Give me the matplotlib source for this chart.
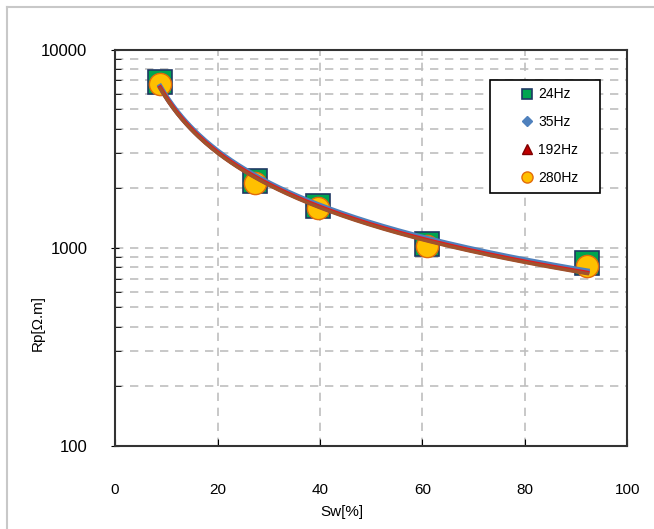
import numpy as np
import matplotlib.pyplot as plt
from matplotlib.lines import Line2D
from matplotlib.patches import Rectangle
from matplotlib.ticker import LogLocator, FixedLocator, NullFormatter

sw = [8.8, 27.3, 39.6, 61.0, 92.2]
rp_24 = [6880, 2180, 1630, 1050, 840]
rp_35 = [6800, 2150, 1610, 1040, 830]
rp_192 = [6780, 2140, 1600, 1030, 820]
rp_280 = [6700, 2120, 1590, 1020, 810]

labels = ["24Hz", "35Hz", "192Hz", "280Hz"]
series = [rp_24, rp_35, rp_192, rp_280]
line_colors = ["#4F81BD", "#4F81BD", "#E41A1C", "#A0522D"]
styles = [
    dict(marker="s", ms=17, mfc="#00A550", mec="#1F3864", mew=1.2),
    dict(marker="D", ms=7, mfc="#4F81BD", mec="#4F81BD", mew=1),
    dict(marker="^", ms=9, mfc="#C00000", mec="#800000", mew=1),
    dict(marker="o", ms=16, mfc="#FFC000", mec="#E26B0A", mew=1),
]

plt.rcParams["font.family"] = ["Liberation Sans", "DejaVu Sans"]

fig = plt.figure(figsize=(6.54, 5.29), dpi=100)
ax = fig.add_axes([0.176, 0.157, 0.783, 0.749])

# power trendlines (fit on logs)
xs = np.linspace(min(sw), max(sw), 200)
for vals, lc, lw in zip(series, line_colors, [3.5, 3.5, 3.0, 2.5]):
    b, lna = np.polyfit(np.log(sw), np.log(vals), 1)
    ax.plot(xs, np.exp(lna) * xs ** b, color=lc, lw=lw, zorder=4)

handles = []
for vals, lab, st in zip(series, labels, styles):
    ax.plot(sw, vals, ls="none", zorder=3, **st)
    hs = dict(st)
    hs["ms"] = {"s": 7, "D": 5, "^": 7, "o": 8}[st["marker"]]
    handles.append(Line2D([], [], ls="none", label=lab, **hs))

ax.set_yscale("log")
ax.set_xlim(0, 100)
ax.set_ylim(100, 10000)
ax.set_xticks([0, 20, 40, 60, 80, 100])
ax.yaxis.set_major_locator(FixedLocator([100, 1000, 10000]))
ax.yaxis.set_minor_locator(LogLocator(base=10, subs=np.arange(2, 10)))
ax.yaxis.set_minor_formatter(NullFormatter())
ax.set_yticklabels(["100", "1000", "10000"])

ax.grid(True, which="major", axis="both", color="#BFBFBF", ls=(0, (5, 4)), lw=1.2)
ax.grid(True, which="minor", axis="y", color="#BFBFBF", ls=(0, (5, 4)), lw=1.2)
ax.set_axisbelow(True)

ax.tick_params(axis="x", which="major", direction="in", length=5, pad=27, labelsize=11)
ax.tick_params(axis="y", which="major", direction="inout", length=6, pad=17, labelsize=12)
ax.tick_params(axis="y", which="minor", direction="in", length=4)
for sp in ax.spines.values():
    sp.set_linewidth(1.5)
    sp.set_color("#333333")

ax.set_xlabel("Sw[%]", fontsize=11, va="center")
ax.xaxis.set_label_coords(0.443, -0.167)
ax.set_ylabel("Rp[Ω.m]", fontsize=11, va="center", ha="center")
ax.yaxis.set_label_coords(-0.152, 0.31)

# legend box drawn separately so the inner spacing matches
ax.add_patch(Rectangle((0.732, 0.639), 0.215, 0.285, transform=ax.transAxes,
                       facecolor="white", edgecolor="black", lw=1.2, zorder=9))
leg = ax.legend(handles=handles, loc="upper left", bbox_to_anchor=(0.791, 0.905),
                frameon=False, fontsize=10, handlelength=1.0,
                handletextpad=0.3, labelspacing=1.0, borderpad=0,
                borderaxespad=0)
leg.set_zorder(10)

# figure frame on left and top
fig.add_artist(Line2D([0.011, 0.011], [0, 0.987], color="#C8C8C8", lw=1.5))
fig.add_artist(Line2D([0.011, 1.0], [0.987, 0.987], color="#C8C8C8", lw=1.5))

plt.savefig("out.png", dpi=100)
